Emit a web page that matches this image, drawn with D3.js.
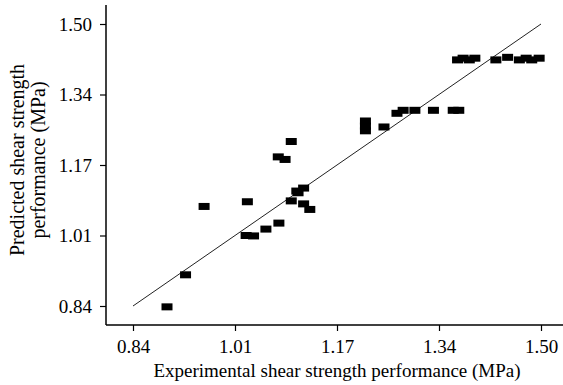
<!DOCTYPE html>
<html>
<head>
<meta charset="utf-8">
<script src="https://cdn.jsdelivr.net/npm/d3@7"></script>
<style>
  body { margin: 0; background: #fff; }
  #chart { width: 563px; height: 385px; }
  text { font-family: "Liberation Serif", "Times New Roman", serif; fill: #000; }
</style>
</head>
<body>
<div id="chart"></div>
<script>
// experimental (x) vs predicted (y) shear strength, MPa
var experimental = [
  0.895, 0.925, 0.955, 1.025, 1.023, 1.035, 1.055, 1.076, 1.075, 1.086,
  1.096, 1.096, 1.105, 1.107, 1.116, 1.116, 1.126,
  1.216, 1.216, 1.216, 1.246, 1.267, 1.277, 1.296, 1.326, 1.358, 1.367,
  1.365, 1.374, 1.384, 1.393, 1.427, 1.446, 1.465, 1.476, 1.485, 1.497
];
var predicted = [
  0.838, 0.913, 1.073, 1.084, 1.005, 1.004, 1.020, 1.034, 1.189, 1.183,
  1.225, 1.086, 1.109, 1.105, 1.116, 1.079, 1.066,
  1.273, 1.261, 1.250, 1.259, 1.291, 1.298, 1.298, 1.298, 1.298, 1.298,
  1.416, 1.420, 1.416, 1.420, 1.416, 1.422, 1.416, 1.420, 1.416, 1.420
];
var tickValues = [0.84, 1.005, 1.17, 1.335, 1.50];
var tickLabels = ['0.84', '1.01', '1.17', '1.34', '1.50'];
var xTitle = 'Experimental shear strength performance (MPa)';
var yTitle = ['Predicted shear strength', 'performance (MPa)'];

(function() {
  var width = 563, height = 385;
  var left = 106, bottom = 325;

  var xScale = d3.scaleLinear().domain([0.84, 1.50]).range([133, 541]);
  var yScale = d3.scaleLinear().domain([0.84, 1.50]).range([306, 24]);

  var svg = d3.select('#chart').append('svg')
    .attr('width', width)
    .attr('height', height);

  // y = x reference line
  svg.append('line')
    .attr('x1', xScale(0.84)).attr('y1', yScale(0.84))
    .attr('x2', xScale(1.50)).attr('y2', yScale(1.50))
    .attr('stroke', '#222')
    .attr('stroke-width', 1);

  var markW = 11, markH = 7;
  svg.selectAll('rect.pt')
    .data(d3.range(experimental.length))
    .enter()
    .append('rect')
    .attr('class', 'pt')
    .attr('x', function(i) { return xScale(experimental[i]) - markW / 2; })
    .attr('y', function(i) { return yScale(predicted[i]) - markH / 2; })
    .attr('width', markW)
    .attr('height', markH)
    .attr('fill', '#000');

  var fmt = function(d) { return tickLabels[tickValues.indexOf(d)]; };

  var xAxis = svg.append('g')
    .attr('transform', 'translate(0,' + bottom + ')')
    .call(d3.axisBottom(xScale).tickValues(tickValues).tickFormat(fmt).tickSize(6).tickPadding(9));
  xAxis.select('.domain').remove();
  xAxis.append('line')
    .attr('x1', left).attr('x2', width).attr('y1', 0).attr('y2', 0)
    .attr('stroke', '#000').attr('stroke-width', 1.5);

  var yAxis = svg.append('g')
    .attr('transform', 'translate(' + left + ',0)')
    .call(d3.axisLeft(yScale).tickValues(tickValues).tickFormat(fmt).tickSize(6).tickPadding(8));
  yAxis.select('.domain').remove();
  yAxis.append('line')
    .attr('x1', 0).attr('x2', 0).attr('y1', 5).attr('y2', bottom)
    .attr('stroke', '#000').attr('stroke-width', 1.5);

  svg.selectAll('.tick line').attr('stroke', '#000').attr('stroke-width', 1.2);
  svg.selectAll('.tick text')
    .style('font-size', '19px')
    .style('font-family', '"Liberation Serif", serif');

  svg.append('text')
    .attr('x', 337).attr('y', 377)
    .attr('text-anchor', 'middle')
    .style('font-size', '19px')
    .text(xTitle);

  svg.selectAll('text.ytitle')
    .data(yTitle)
    .enter()
    .append('text')
    .attr('class', 'ytitle')
    .attr('text-anchor', 'middle')
    .attr('transform', function(d, i) { return 'translate(' + (24 + i * 21) + ',160) rotate(-90)'; })
    .style('font-size', '20px')
    .text(function(d) { return d; });
})();
</script>
</body>
</html>
